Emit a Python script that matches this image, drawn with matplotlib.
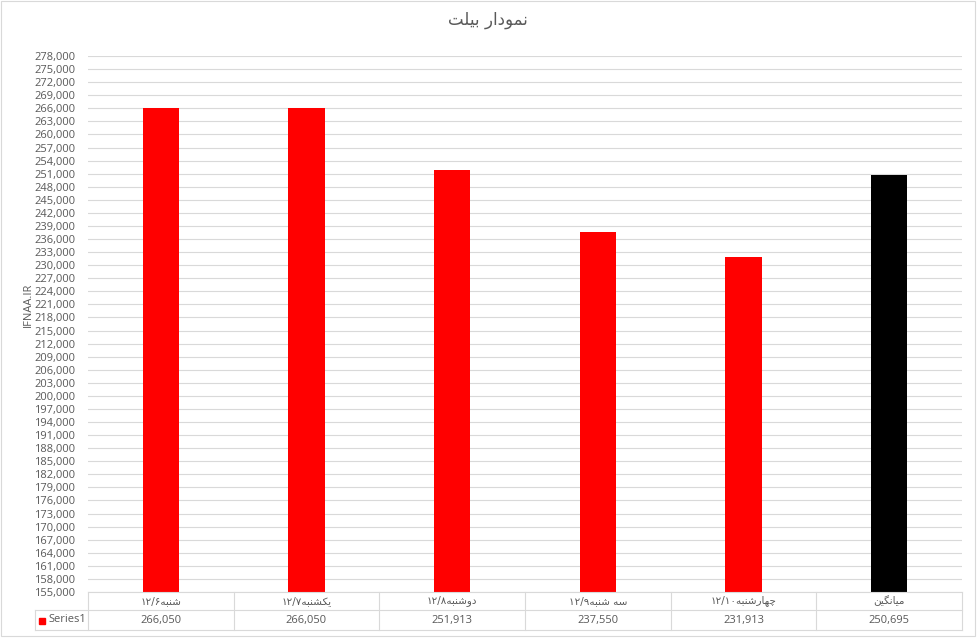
import matplotlib
matplotlib.use('Agg')
import matplotlib.pyplot as plt
from matplotlib.patches import Rectangle
from matplotlib.lines import Line2D
import numpy as np

# chart data
days = ['شنبه', 'یکشنبه', 'دوشنبه', 'سه شنبه', 'چهارشنبه', 'میانگین']
dates = ['۱۲/۶', '۱۲/۷', '۱۲/۸', '۱۲/۹', '۱۲/۱۰', '']
values = [266050, 266050, 251913, 237550, 231913, 250695]
bar_colors = ['#ff0000', '#ff0000', '#ff0000', '#ff0000', '#ff0000', '#000000']
title = 'نمودار بیلت'
ylabel = 'IFNAA.IR'
series_name = 'Series1'
ymin, ymax, ystep = 155000, 278000, 3000

# matplotlib has no arabic shaping, so pick presentation forms by hand
# (isolated, final, initial, medial)
FORMS = {
    'ا': (0xFE8D, 0xFE8E, None, None),
    'ب': (0xFE8F, 0xFE90, 0xFE91, 0xFE92),
    'ت': (0xFE95, 0xFE96, 0xFE97, 0xFE98),
    'د': (0xFEA9, 0xFEAA, None, None),
    'ر': (0xFEAD, 0xFEAE, None, None),
    'س': (0xFEB1, 0xFEB2, 0xFEB3, 0xFEB4),
    'ش': (0xFEB5, 0xFEB6, 0xFEB7, 0xFEB8),
    'ل': (0xFEDD, 0xFEDE, 0xFEDF, 0xFEE0),
    'م': (0xFEE1, 0xFEE2, 0xFEE3, 0xFEE4),
    'ن': (0xFEE5, 0xFEE6, 0xFEE7, 0xFEE8),
    'ه': (0xFEE9, 0xFEEA, 0xFEEB, 0xFEEC),
    'و': (0xFEED, 0xFEEE, None, None),
    'ی': (0xFBFC, 0xFBFD, 0xFBFE, 0xFBFF),
    'ک': (0xFB8E, 0xFB8F, 0xFB90, 0xFB91),
    'گ': (0xFB92, 0xFB93, 0xFB94, 0xFB95),
    'چ': (0xFB7A, 0xFB7B, 0xFB7C, 0xFB7D),
}


def shape(word):
    out = []
    for i, c in enumerate(word):
        f = FORMS.get(c)
        if f is None:
            out.append(c)
            continue
        prev = word[i - 1] if i > 0 else None
        nxt = word[i + 1] if i < len(word) - 1 else None
        jp = prev in FORMS and FORMS[prev][2] is not None
        jn = f[2] is not None and nxt in FORMS
        if jp and jn:
            code = f[3]
        elif jp:
            code = f[1]
        elif jn:
            code = f[2]
        else:
            code = f[0]
        out.append(chr(code))
    return ''.join(out)[::-1]


def label_for(day, date):
    # rtl display: the date sits on the left of the word
    return date + shape(day)


W, H = 977, 638
TXT = '#595959'
GRID = '#d9d9d9'
FA = ['DejaVu Sans']
NUM = ['Open Sans', 'DejaVu Sans']

fig = plt.figure(figsize=(W / 100, H / 100), dpi=100)
fig.patch.set_facecolor('white')


def fx(x):
    return x / W


def fy(y):
    return 1 - y / H


left, right, top, bottom = 88, 962, 56, 592
ax = fig.add_axes([fx(left), fy(bottom), fx(right - left), (bottom - top) / H])

x = np.arange(len(values))
ax.bar(x, values, width=0.25, color=bar_colors, zorder=3)
ax.set_xlim(-0.5, len(values) - 0.5)
ax.set_ylim(ymin, ymax)
ax.set_yticks(np.arange(ymin, ymax + 1, ystep))
ax.set_yticklabels([f'{v:,}' for v in np.arange(ymin, ymax + 1, ystep)],
                   family=NUM, fontsize=8, color=TXT)
ax.set_xticks([])
ax.tick_params(axis='y', length=0, pad=9)
ax.grid(axis='y', color=GRID, linewidth=0.8, zorder=0)
for s in ax.spines.values():
    s.set_visible(False)

fig.text(fx(28), fy(305), ylabel, rotation=90, ha='center', va='center',
         family=NUM, fontsize=8, color=TXT)
fig.text(fx(488), fy(20), shape(title.split(' ')[1]) + ' ' + shape(title.split(' ')[0]),
         ha='center', va='center', family=FA, fontsize=12, color=TXT)

# data table below the plot
row1, row2, row3 = 592, 610, 630
cw = (right - left) / len(values)


def hline(y, x0, x1):
    fig.add_artist(Line2D([fx(x0), fx(x1)], [fy(y), fy(y)], color=GRID, lw=0.8))


def vline(xp, y0, y1):
    fig.add_artist(Line2D([fx(xp), fx(xp)], [fy(y0), fy(y1)], color=GRID, lw=0.8))


hline(row1, left, right)
hline(row2, 35, right)
hline(row3, 35, right)
vline(35, row2, row3)
for i in range(len(values) + 1):
    vline(left + i * cw, row1, row3)

for i, (d, dt, v) in enumerate(zip(days, dates, values)):
    cx = left + (i + 0.5) * cw
    fig.text(fx(cx), fy((row1 + row2) / 2), label_for(d, dt), ha='center', va='center',
             family=FA, fontsize=7.5, color=TXT)
    fig.text(fx(cx), fy((row2 + row3) / 2), f'{v:,}', ha='center', va='center',
             family=NUM, fontsize=8, color=TXT)

fig.add_artist(Rectangle((fx(39), fy(624)), fx(6), 6 / H, color='#ff0000'))
fig.text(fx(48), fy(620), series_name, ha='left', va='center',
         family=NUM, fontsize=8, color=TXT)

# outer chart border
fig.add_artist(Rectangle((fx(1), fy(636)), fx(974), 635 / H, fill=False,
                         edgecolor=GRID, lw=0.8))

fig.savefig('out.png', dpi=100)
